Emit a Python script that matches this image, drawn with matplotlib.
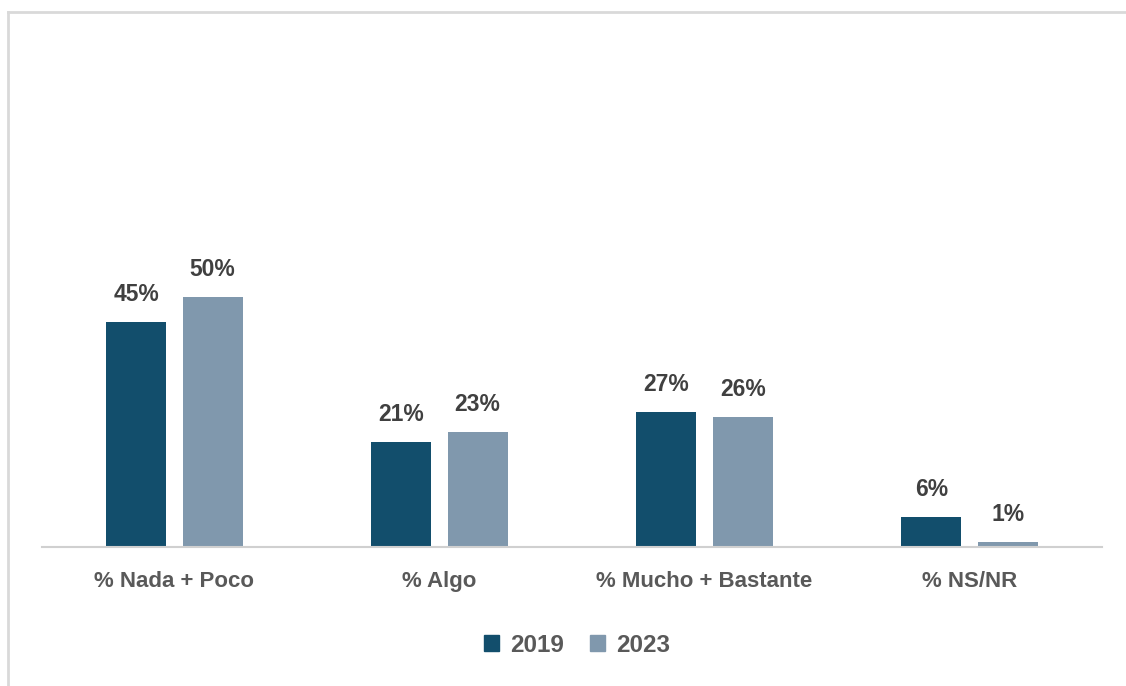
import numpy as np
import matplotlib
matplotlib.use("Agg")
import matplotlib.pyplot as plt
from matplotlib.lines import Line2D
from matplotlib.patches import Patch

# Datos
categorias = ["% Nada + Poco", "% Algo", "% Mucho + Bastante", "% NS/NR"]
anios = ["2019", "2023"]
v2019 = [45, 21, 27, 6]
v2023 = [50, 23, 26, 1]

col2019 = "#124e6c"
col2023 = "#8098ad"

plt.rcParams['font.family'] = ['Liberation Sans', 'DejaVu Sans']

fig = plt.figure(figsize=(11.26, 6.86), dpi=100)
ax = fig.add_axes([42 / 1126, 1 - 547 / 686, (1102 - 42) / 1126, (547 - 40) / 686])

x = np.arange(len(categorias))
w = 0.227
off = 0.144
b1 = ax.bar(x - off, v2019, w, color=col2019, label=anios[0])
b2 = ax.bar(x + off, v2023, w, color=col2023, label=anios[1])

for bars, vals in [(b1, v2019), (b2, v2023)]:
    for b, v in zip(bars, vals):
        ax.annotate(f"{v}%", (b.get_x() + b.get_width() / 2, v),
                    xytext=(0, 11.5), textcoords="offset points",
                    ha="center", va="bottom", fontsize=16.5,
                    fontweight="bold", color="#404040")

ax.set_xlim(-0.5, len(categorias) - 0.5)
ax.set_ylim(0, (547 - 40) / 5)
ax.set_xticks(x)
ax.set_xticklabels(categorias, fontsize=16, fontweight="bold", color="#595959")
ax.tick_params(axis="x", length=0, pad=17)
ax.set_yticks([])
for s in ["top", "right", "left"]:
    ax.spines[s].set_visible(False)
ax.spines["bottom"].set_color("#d0d0d0")
ax.spines["bottom"].set_linewidth(1.5)

handles = [Patch(color=col2019), Patch(color=col2023)]
leg = fig.legend(handles, anios, loc="center", bbox_to_anchor=(577 / 1126, 1 - 645 / 686),
                 ncol=2, frameon=False, handlelength=0.6, handleheight=0.6,
                 handletextpad=0.45, columnspacing=1.1,
                 prop={"size": 17.5, "weight": "bold"})
for t in leg.get_texts():
    t.set_color("#595959")

# marco gris del recuadro
fig.add_artist(Line2D([8 / 1126, 8 / 1126], [0, 1 - 12 / 686], color="#d9d9d9", lw=2))
fig.add_artist(Line2D([8 / 1126, 1], [1 - 12 / 686, 1 - 12 / 686], color="#d9d9d9", lw=2))

fig.savefig("out.png", dpi=100)
